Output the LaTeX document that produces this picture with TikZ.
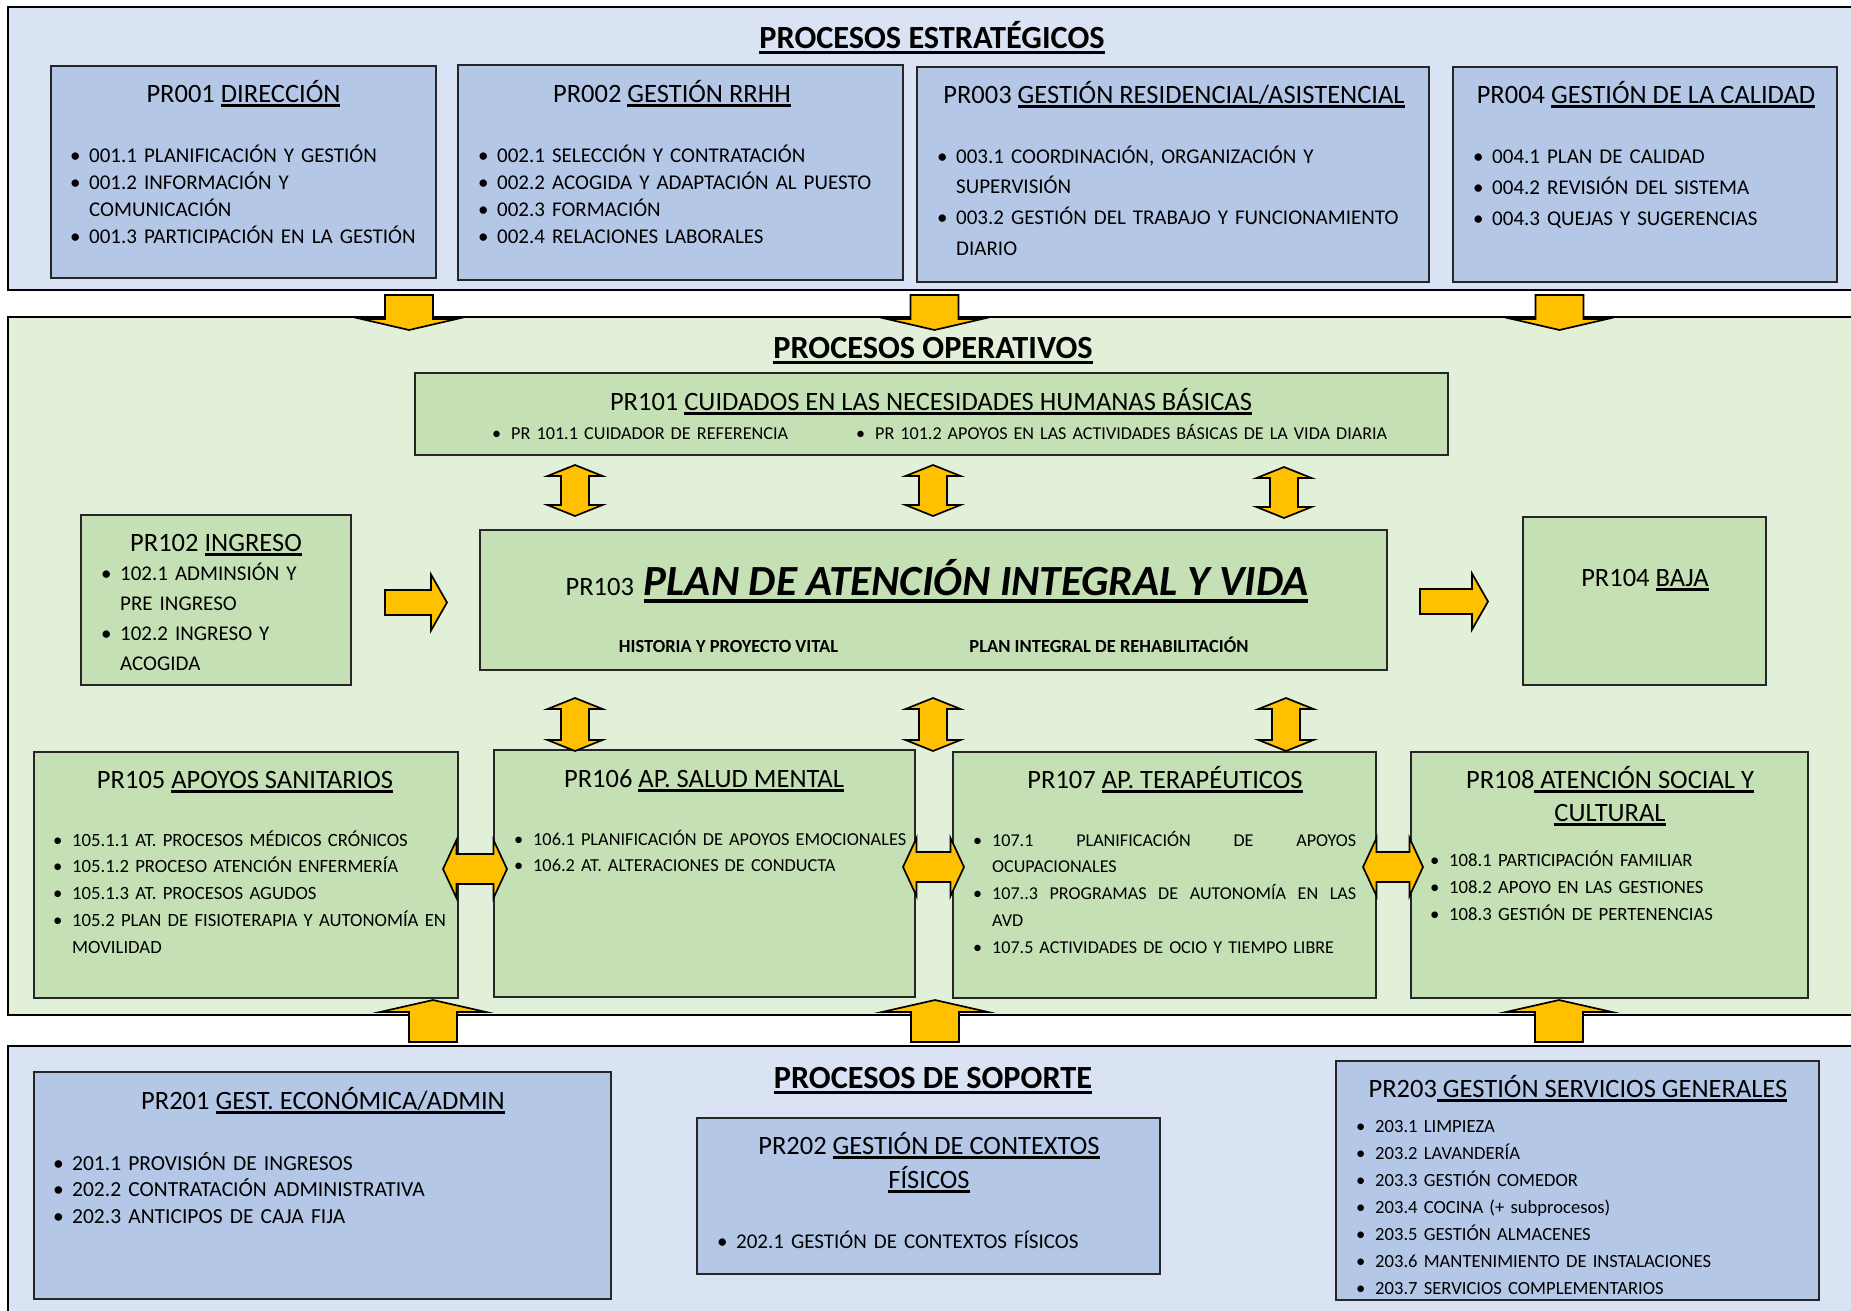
\documentclass[tikz,border=0pt]{standalone}
\usepackage{fontspec}
\setmainfont{Carlito}
\usetikzlibrary{calc}

\definecolor{bandblue}{HTML}{DAE3F3}
\definecolor{boxblue}{HTML}{B4C7E7}
\definecolor{bandgreen}{HTML}{E2F0D9}
\definecolor{boxgreen}{HTML}{C5E0B4}
\definecolor{gold}{HTML}{FFC000}

\hyphenpenalty=10000
\exhyphenpenalty=10000

% underline with a fixed depth, independent of descenders
\newcommand\ulx[1]{\leavevmode\setbox0\hbox{#1}\rlap{\rule[-0.19em]{\wd0}{0.1em}}\box0}
% bullet item with hanging indent
\newcommand\bi[1]{\hangindent=19pt\hangafter=1\makebox[19pt][l]{\textbullet}#1}
% fully spread line of a given width
\newcommand\spread[1]{\hbox to 364pt{#1}}
\newcommand\fH{\fontsize{32.3}{36}\selectfont\bfseries}
\newcommand\fT{\fontsize{26.5}{33}\selectfont}
% \procbox{name}{x1}{y1}{x2}{y2}{style}
\newcommand\procbox[6]{\node[#6, minimum width=#4-#2, minimum height=#5-#3] (#1) at (#2,#3) {};}

\tikzset{
  frame/.style={anchor=north west, inner sep=0pt, outer sep=0pt},
  band/.style={frame, draw=black, line width=2.2pt},
  bluebox/.style={frame, draw=black!85, line width=1.6pt, fill=boxblue},
  greenbox/.style={frame, draw=black!85, line width=1.6pt, fill=boxgreen},
  head/.style={anchor=base, inner sep=0pt, font=\fH},
  ttl/.style={anchor=base, inner sep=0pt, font=\fT},
  lst/.style={anchor=base west, inner sep=0pt, align=left, text width=#1},
  sub/.style={anchor=base, inner sep=0pt, font=\fontsize{18.5}{22}\selectfont\bfseries},
  blk/.style={fill=gold, draw=black, line width=1.7pt, line join=miter},
  pics/dnarr/.style={code={\draw[blk] (-24,0) -- (24,0) -- (24,24) -- (47.5,24) -- (0,35) -- (-47.5,24) -- (-24,24) -- cycle;}},
  pics/uparr/.style={code={\draw[blk] (-24,0) -- (24,0) -- (24,-30) -- (53,-30) -- (0,-42) -- (-53,-30) -- (-24,-30) -- cycle;}},
  pics/vdbl/.style={code={\draw[blk] (0,0) -- (27.5,11) -- (14,11) -- (14,#1-11) -- (27.5,#1-11) -- (0,#1) -- (-27.5,#1-11) -- (-14,#1-11) -- (-14,11) -- (-27.5,11) -- cycle;}},
  pics/hdbl/.style={code={\draw[blk] (0,0) -- (13.5,-29) -- (13.5,-15) -- (#1-13.5,-15) -- (#1-13.5,-29) -- (#1,0) -- (#1-13.5,29) -- (#1-13.5,15) -- (13.5,15) -- (13.5,29) -- cycle;}},
  pics/rarr/.style={code={\draw[blk] (0,-12.5) -- (#1,-12.5) -- (#1,-28) -- (#1+16,0) -- (#1,28) -- (#1,12.5) -- (0,12.5) -- cycle;}},
}

\begin{document}
\begin{tikzpicture}[x=1pt,y=-1pt]
\useasboundingbox (0,0) rectangle (1851,1310);
\clip (0,0) rectangle (1851,1310);
\fill[white] (0,0) rectangle (1851,1310);

% ---------- bands ----------
\procbox{strat}{8}{7}{1875}{290}{band, fill=bandblue}
\procbox{oper}{8}{317}{1875}{1015}{band, fill=bandgreen}
\procbox{supp}{8}{1046}{1875}{1335}{band, fill=bandblue}

% ---------- strategic processes ----------
\node[head] (hstrat) at (932,48) {\ulx{PROCESOS ESTRATÉGICOS}};

\procbox{pr001}{51}{66}{436}{278}{bluebox}
\procbox{pr002}{458}{65}{903}{280}{bluebox}
\procbox{pr003}{917}{67}{1429}{282}{bluebox}
\procbox{pr004}{1453}{67}{1837}{282}{bluebox}

\node[ttl] (t001) at (243.5,102) {PR001 \ulx{DIRECCIÓN}};
\node[ttl] (t002) at (672,102) {PR002 \ulx{GESTIÓN RRHH}};
\node[ttl] (t003) at (1174,103) {PR003 \ulx{GESTIÓN RESIDENCIAL/ASISTENCIAL}};
\node[ttl] (t004) at (1646,103) {PR004 \ulx{GESTIÓN DE LA CALIDAD}};

\node[lst=370, font=\fontsize{21}{27}\selectfont] (l001) at (70,162)
  {\bi{001.1 PLANIFICACIÓN Y GESTIÓN}\par
   \bi{001.2 INFORMACIÓN Y\newline COMUNICACIÓN}\par
   \bi{001.3 PARTICIPACIÓN EN LA GESTIÓN}\par};
\node[lst=420, font=\fontsize{21}{27}\selectfont] (l002) at (478,162)
  {\bi{002.1 SELECCIÓN Y CONTRATACIÓN}\par
   \bi{002.2 ACOGIDA Y ADAPTACIÓN AL PUESTO}\par
   \bi{002.3 FORMACIÓN}\par
   \bi{002.4 RELACIONES LABORALES}\par};
\node[lst=490, font=\fontsize{21}{30.7}\selectfont] (l003) at (937,163)
  {\bi{003.1 COORDINACIÓN, ORGANIZACIÓN Y\newline SUPERVISIÓN}\par
   \bi{003.2 GESTIÓN DEL TRABAJO Y FUNCIONAMIENTO\newline DIARIO}\par};
\node[lst=360, font=\fontsize{21}{31}\selectfont] (l004) at (1473,163)
  {\bi{004.1 PLAN DE CALIDAD}\par
   \bi{004.2 REVISIÓN DEL SISTEMA}\par
   \bi{004.3 QUEJAS Y SUGERENCIAS}\par};

% ---------- operative processes ----------
\node[head] (hoper) at (933,358) {\ulx{PROCESOS OPERATIVOS}};

\procbox{pr101}{415}{373}{1448}{455}{greenbox}
\procbox{pr102}{81}{515}{351}{685}{greenbox}
\procbox{pr103}{480}{530}{1387}{670}{greenbox}
\procbox{pr104}{1523}{517}{1766}{685}{greenbox}
\procbox{pr105}{34}{752}{458}{998}{greenbox}
\procbox{pr106}{494}{750}{915}{997}{greenbox}
\procbox{pr107}{953}{752}{1376}{998}{greenbox}
\procbox{pr108}{1411}{752}{1808}{998}{greenbox}

\node[ttl] (t101) at (931,410) {PR101 \ulx{CUIDADOS EN LAS NECESIDADES HUMANAS BÁSICAS}};
\node[lst=340, font=\fontsize{18.2}{26}\selectfont] (l101a) at (492,439)
  {\bi{PR 101.1 CUIDADOR DE REFERENCIA}\par};
\node[lst=580, font=\fontsize{18.1}{26}\selectfont] (l101b) at (856,439)
  {\bi{PR 101.2 APOYOS EN LAS ACTIVIDADES BÁSICAS DE LA VIDA DIARIA}\par};

\node[ttl] (t102) at (216,551) {PR102 \ulx{INGRESO}};
\node[lst=240, font=\fontsize{21}{30.3}\selectfont] (l102) at (101,580)
  {\bi{102.1 ADMINSIÓN Y\newline PRE INGRESO}\par
   \bi{102.2 INGRESO Y\newline ACOGIDA}\par};

\node[ttl] (t103) at (937,595) {PR103\hspace{10pt}{\fontsize{43}{46}\selectfont\bfseries\itshape\ulx{PLAN DE ATENCIÓN INTEGRAL Y VIDA}}};
\node[sub] (s103a) at (728.5,652) {HISTORIA Y PROYECTO VITAL};
\node[sub] (s103b) at (1109,652) {PLAN INTEGRAL DE REHABILITACIÓN};

\node[ttl] (t104) at (1645,586) {PR104 \ulx{BAJA}};

\node[ttl] (t105) at (245,788) {PR105 \ulx{APOYOS SANITARIOS}};
\node[lst=420, font=\fontsize{18.7}{26.8}\selectfont] (l105) at (53,846)
  {\bi{105.1.1 AT. PROCESOS MÉDICOS CRÓNICOS}\par
   \bi{105.1.2 PROCESO ATENCIÓN ENFERMERÍA}\par
   \bi{105.1.3 AT. PROCESOS AGUDOS}\par
   \bi{105.2 PLAN DE FISIOTERAPIA Y AUTONOMÍA EN\newline MOVILIDAD}\par};

\node[ttl] (t106) at (704,787) {PR106 \ulx{AP. SALUD MENTAL}};
\node[lst=440, font=\fontsize{18.3}{26}\selectfont] (l106) at (514,845)
  {\bi{106.1 PLANIFICACIÓN DE APOYOS EMOCIONALES}\par
   \bi{106.2 AT. ALTERACIONES DE CONDUCTA}\par};

\node[ttl] (t107) at (1165,788) {PR107 \ulx{AP. TERAPÉUTICOS}};
\node[lst=420, font=\fontsize{18.1}{26.8}\selectfont] (l107) at (973,846)
  {\bi{\spread{107.1\hfill PLANIFICACIÓN\hfill DE\hfill APOYOS}\newline OCUPACIONALES}\par
   \bi{\spread{107..3\hfill PROGRAMAS\hfill DE\hfill AUTONOMÍA\hfill EN\hfill LAS}\newline AVD}\par
   \bi{107.5 ACTIVIDADES DE OCIO Y TIEMPO LIBRE}\par};

\node[ttl] (t108a) at (1610,788) {PR108\ulx{\ ATENCIÓN SOCIAL Y}};
\node[ttl] (t108b) at (1610,821) {\ulx{CULTURAL}};
\node[lst=370, font=\fontsize{18.7}{27}\selectfont] (l108) at (1430,866)
  {\bi{108.1 PARTICIPACIÓN FAMILIAR}\par
   \bi{108.2 APOYO EN LAS GESTIONES}\par
   \bi{108.3 GESTIÓN DE PERTENENCIAS}\par};

% ---------- support processes ----------
\node[head] (hsupp) at (933,1088) {\ulx{PROCESOS DE SOPORTE}};

\procbox{pr201}{34}{1072}{611}{1299}{bluebox}
\procbox{pr202}{697}{1118}{1160}{1274}{bluebox}
\procbox{pr203}{1336}{1061}{1819}{1300}{bluebox}

\node[ttl] (t201) at (323,1109) {PR201 \ulx{GEST. ECONÓMICA/ADMIN}};
\node[lst=500, font=\fontsize{21.5}{26.5}\selectfont] (l201) at (53,1170)
  {\bi{201.1 PROVISIÓN DE INGRESOS}\par
   \bi{202.2 CONTRATACIÓN ADMINISTRATIVA}\par
   \bi{202.3 ANTICIPOS DE CAJA FIJA}\par};

\node[ttl] (t202a) at (929,1154) {PR202 \ulx{GESTIÓN DE CONTEXTOS}};
\node[ttl] (t202b) at (929,1188) {\ulx{FÍSICOS}};
\node[lst=420, font=\fontsize{21}{27}\selectfont] (l202) at (717,1248)
  {\bi{202.1 GESTIÓN DE CONTEXTOS FÍSICOS}\par};

\node[ttl] (t203) at (1578,1097) {PR203\ulx{\ GESTIÓN SERVICIOS GENERALES}};
\node[lst=440, font=\fontsize{18.6}{27}\selectfont] (l203) at (1356,1132)
  {\bi{203.1 LIMPIEZA}\par
   \bi{203.2 LAVANDERÍA}\par
   \bi{203.3 GESTIÓN COMEDOR}\par
   \bi{203.4 COCINA (+ subprocesos)}\par
   \bi{203.5 GESTIÓN ALMACENES}\par
   \bi{203.6 MANTENIMIENTO DE INSTALACIONES}\par
   \bi{203.7 SERVICIOS COMPLEMENTARIOS}\par};

% ---------- block arrows ----------
% strategic -> operative
\pic at (409,295) {dnarr};
\pic at (934.5,295) {dnarr};
\pic at (1559.5,295) {dnarr};
% support -> operative
\pic at (433,1042) {uparr};
\pic at (935,1042) {uparr};
\pic at (1559,1042) {uparr};
% PR101 <-> PR103
\pic at (575,465) {vdbl=51};
\pic at (933,465) {vdbl=51};
\pic at (1284,467) {vdbl=51};
% PR103 <-> PR105..PR107
\pic at (575,698) {vdbl=53};
\pic at (933,698) {vdbl=53};
\pic at (1286,698) {vdbl=53};
% between lower boxes
\pic at (443,869) {hdbl=64};
\pic at (903,867) {hdbl=61};
\pic at (1363,867) {hdbl=60};
% PR102 -> PR103 -> PR104
\pic at (385,602.5) {rarr=46};
\pic at (1420,601.5) {rarr=52};
\end{tikzpicture}
\end{document}
